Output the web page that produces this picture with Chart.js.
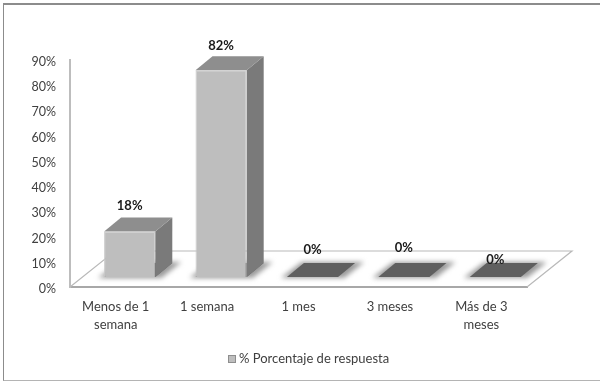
<!DOCTYPE html>
<html>
<head>
<meta charset="utf-8">
<title>% Porcentaje de respuesta</title>
<script src="https://cdn.jsdelivr.net/npm/chart.js@4/dist/chart.umd.min.js"></script>
<style>
    html, body { margin: 0; padding: 0; background: #fff; overflow: hidden; }
    #marco { position: absolute; left: 3px; top: 3px; width: 600px; height: 375px; border: 1px solid #8c8c8c; border-top-width: 2px; border-right: 0; border-bottom-color: #b4b4b4; }
    #grafico { position: absolute; left: 0; top: 0; }
</style>
</head>
<body>
<div id="marco"></div>
<canvas id="grafico" width="600" height="381"></canvas>
<script>
// ---------------------
// Datos
// ---------------------
const categorias = [['Menos de 1', 'semana'], '1 semana', '1 mes', '3 meses', ['Más de 3', 'meses']];
const porcentajes = [18, 82, 0, 0, 0];
const etiquetasEjeY = ['0%', '10%', '20%', '30%', '40%', '50%', '60%', '70%', '80%', '90%'];
const nombreSerie = '% Porcentaje de respuesta';

// ---------------------
// Perspectiva 3D
// ---------------------
const FONDO = { dx: 45, dy: -36 };     // profundidad del piso
const BARRA = { dx: 14, dy: -10 };     // desplazamiento de las barras sobre el piso
const GROSOR = { dx: 17, dy: -14 };    // profundidad de cada barra
const ALTURA_ETIQUETA = [26, 24, 27, 29, 17];

function poligono(ctx, puntos, relleno) {
    ctx.beginPath();
    puntos.forEach((p, i) => i ? ctx.lineTo(p[0], p[1]) : ctx.moveTo(p[0], p[1]));
    ctx.closePath();
    ctx.fillStyle = relleno;
    ctx.fill();
}

// Piso del gráfico, detrás de las barras
const piso = {
    id: 'piso',
    beforeDatasetsDraw(chart) {
        const { ctx, chartArea: a } = chart;
        const y = chart.scales.y.getPixelForValue(0);
        ctx.save();
        ctx.strokeStyle = '#b9b9b9';
        ctx.lineWidth = 1.2;
        ctx.beginPath();
        ctx.moveTo(a.left, y);
        ctx.lineTo(a.left + FONDO.dx, y + FONDO.dy);
        ctx.lineTo(a.right + FONDO.dx, y + FONDO.dy);
        ctx.lineTo(a.right, y);
        ctx.stroke();
        ctx.restore();
    }
};

// Sombra, cara lateral y tapa; la cara frontal la dibuja el propio Chart.js
const barras3d = {
    id: 'barras3d',
    beforeDatasetDraw(chart, args) {
        const { ctx } = chart;
        ctx.save();
        ctx.translate(BARRA.dx, BARRA.dy);
        args.meta.data.forEach(el => {
            const izq = el.x - el.width / 2;
            const der = el.x + el.width / 2;
            const g = GROSOR;

            // halo difuso sobre el piso
            ctx.save();
            ctx.filter = 'blur(2.5px)';
            poligono(ctx, [[izq - 6, el.base + 1], [der + 6, el.base + 1], [der + g.dx + 9, el.base + g.dy - 1], [izq + g.dx - 2, el.base + g.dy - 1]], '#9a9a9a');
            ctx.restore();

            poligono(ctx, [[izq, el.base], [der, el.base], [der + g.dx, el.base + g.dy], [izq + g.dx, el.base + g.dy]], '#5f5f5f');

            if (el.base - el.y < 1) return;
            poligono(ctx, [[der, el.y], [der + g.dx, el.y + g.dy], [der + g.dx, el.base + g.dy], [der, el.base]], '#7a7a7a');
            poligono(ctx, [[izq, el.y], [der, el.y], [der + g.dx, el.y + g.dy], [izq + g.dx, el.y + g.dy]], '#8e8e8e');
        });
    },
    afterDatasetDraw(chart) {
        chart.ctx.restore();
    },
    afterDatasetsDraw(chart) {
        const { ctx } = chart;
        const meta = chart.getDatasetMeta(0);
        ctx.save();
        ctx.font = 'bold 13px Lato';
        ctx.fillStyle = '#1a1a1a';
        ctx.textAlign = 'center';
        ctx.textBaseline = 'middle';
        meta.data.forEach((el, i) => {
            ctx.fillText(porcentajes[i] + '%', el.x + BARRA.dx, el.y + BARRA.dy - ALTURA_ETIQUETA[i]);
        });
        ctx.restore();
    }
};

// ---------------------
// Gráfico
// ---------------------
Chart.defaults.font.family = 'Lato';
Chart.defaults.font.size = 13;
Chart.defaults.color = '#404040';

new Chart(document.getElementById('grafico').getContext('2d'), {
    type: 'bar',
    data: {
        labels: categorias,
        datasets: [{
            label: nombreSerie,
            data: porcentajes,
            backgroundColor: '#bebebe',
            borderColor: '#c8c8c8',
            borderWidth: 1,
            barPercentage: 0.56,
            categoryPercentage: 1
        }]
    },
    options: {
        responsive: false,
        animation: false,
        layout: { padding: { left: 10, right: 73, top: 60, bottom: 0 } },
        plugins: {
            tooltip: { enabled: false },
            legend: { display: false }
        },
        scales: {
            x: {
                afterFit(scale) { scale.height = 94; },
                grid: { display: false },
                border: { color: '#a8a8a8', width: 2 },
                ticks: { maxRotation: 0, autoSkip: false, padding: 3, font: { lineHeight: 1.4 } }
            },
            y: {
                min: 0,
                max: 90,
                afterFit(scale) { scale.width = 60; },
                grid: { display: false },
                border: { color: '#bdbdbd', width: 2 },
                ticks: {
                    stepSize: 10,
                    padding: 6,
                    labelOffset: 2,
                    font: { size: 12.5 },
                    callback: (v, i) => etiquetasEjeY[i]
                }
            }
        }
    },
    plugins: [piso, barras3d, {
        // Leyenda centrada bajo el gráfico
        id: 'leyenda',
        afterDraw(chart) {
            const { ctx } = chart;
            ctx.save();
            ctx.fillStyle = '#bebebe';
            ctx.strokeStyle = '#8e8e8e';
            ctx.fillRect(228, 355, 7, 7);
            ctx.strokeRect(228.5, 355.5, 7, 7);
            ctx.font = '13px Lato';
            ctx.fillStyle = '#404040';
            ctx.textBaseline = 'middle';
            ctx.fillText(nombreSerie, 239, 359);
            ctx.restore();
        }
    }]
});
</script>
</body>
</html>
